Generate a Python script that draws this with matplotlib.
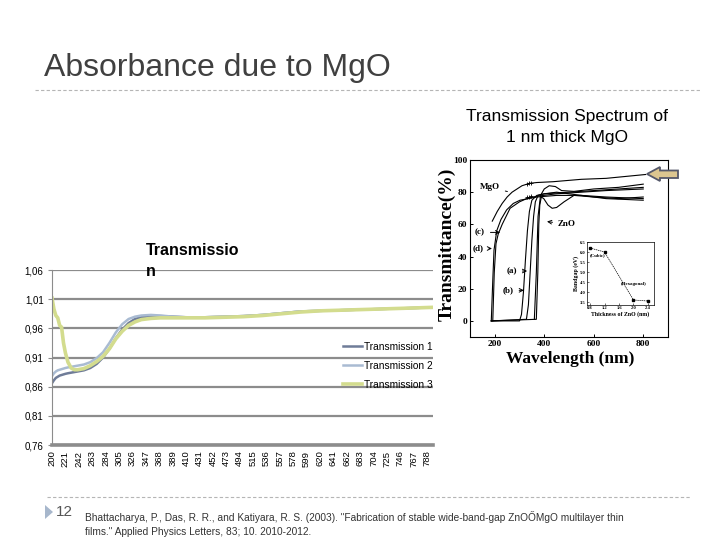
import matplotlib
matplotlib.use('Agg')
import matplotlib.pyplot as plt
from matplotlib.patches import Polygon
from matplotlib.lines import Line2D

plt.rcParams['font.family'] = ['Liberation Sans', 'DejaVu Sans']

# ---------------- main chart data ----------------
wavelength = [200, 203, 206, 209, 212, 215, 218, 221, 225, 230,
              235, 240, 250, 260, 270, 280, 290, 300, 310, 320,
              330, 340, 355, 370, 390, 410, 440, 470, 500, 530,
              560, 590, 620, 650, 680, 710, 740, 770, 797]
trans1 = [0.866, 0.871, 0.875, 0.877, 0.879, 0.880, 0.881, 0.882, 0.883, 0.884,
          0.885, 0.886, 0.888, 0.892, 0.899, 0.910, 0.925, 0.943, 0.958, 0.969,
          0.976, 0.979, 0.981, 0.981, 0.980, 0.979, 0.979, 0.980, 0.981, 0.983,
          0.986, 0.989, 0.990, 0.991, 0.992, 0.993, 0.994, 0.995, 0.996]
trans2 = [0.878, 0.883, 0.886, 0.888, 0.889, 0.890, 0.891, 0.892, 0.893, 0.894,
          0.895, 0.896, 0.898, 0.902, 0.909, 0.919, 0.935, 0.953, 0.967, 0.976,
          0.980, 0.982, 0.983, 0.982, 0.980, 0.979, 0.979, 0.980, 0.981, 0.983,
          0.986, 0.989, 0.990, 0.991, 0.992, 0.993, 0.994, 0.995, 0.996]
trans3 = [1.012, 0.993, 0.982, 0.978, 0.965, 0.962, 0.935, 0.918, 0.902, 0.892,
          0.889, 0.889, 0.891, 0.896, 0.903, 0.912, 0.925, 0.942, 0.955, 0.965,
          0.971, 0.975, 0.977, 0.978, 0.978, 0.978, 0.978, 0.979, 0.980, 0.982,
          0.985, 0.988, 0.990, 0.991, 0.992, 0.993, 0.994, 0.995, 0.996]
series_names = ['Transmission 1', 'Transmission 2', 'Transmission 3']
series_colors = ['#6f7c98', '#a9bbd2', '#d3dc8e']
x_tick_labels = list(range(200, 789, 21))
y_ticks = [0.76, 0.81, 0.86, 0.91, 0.96, 1.01, 1.06]

# ---------------- reproduced literature figure data ----------------
mgo_x = [190, 210, 230, 250, 270, 290, 310, 340, 370, 435, 550, 650, 810]
mgo_y = [62, 68, 73, 77, 80, 82, 84, 85.5, 86, 86.5, 88, 88.6, 91]
c_x = [192, 198, 205, 214, 230, 262, 300, 329, 370, 450, 550, 650, 800]
c_y = [0, 30, 48, 54, 60, 70, 74, 76, 77.5, 79, 80, 81, 82]
d_x = [186, 192, 197, 208, 225, 248, 275, 302, 370, 450, 550, 650, 800]
d_y = [0, 25, 44, 56, 63, 69, 73, 75, 77, 78, 78, 77, 76]
a_x = [186, 300, 308, 316, 324, 332, 340, 350, 370, 400, 500, 600, 700, 800]
a_y = [0, 0, 4, 18, 38, 56, 68, 75, 78, 79, 80, 81, 82, 83]
b_x = [186, 328, 336, 343, 350, 357, 364, 375, 400, 450, 550, 650, 800]
b_y = [0, 1, 10, 30, 50, 65, 74, 78, 79, 80, 78, 76, 75]
zno_x = [186, 368, 374, 378, 382, 388, 398, 415, 432, 450, 480, 520, 600, 700, 800]
zno_y = [0, 1, 30, 60, 72, 77, 76, 72, 70, 70.5, 74, 78, 77, 76, 77]
e_x = [360, 368, 375, 385, 400, 420, 445, 470, 520, 600, 700, 800]
e_y = [1, 30, 65, 78, 82, 84, 83.5, 81, 80.5, 82, 83, 85]
mark_x = [330, 338, 346]
mark_mgo_y = [85, 85.4, 85.7]
mark_low_y = [77, 77.3, 77.6]
thickness = [0.8, 1.2, 2.0, 2.4]
bandgap = [6.2, 6.0, 3.6, 3.55]

W, H = 720, 540
fig = plt.figure(figsize=(7.2, 5.4), dpi=100)
fig.patch.set_facecolor('white')


def fx(px):
    return px / W


def fy(py):
    return 1 - py / H


# ---------------- slide title ----------------
fig.text(fx(44), fy(68), 'Absorbance due to MgO', fontsize=23, color='#404040',
         ha='left', va='center')
fig.add_artist(Line2D([fx(35), fx(700)], [fy(90), fy(90)], color='#b5b5b5',
                      lw=0.8, ls=(0, (3, 2))))

fig.text(fx(567), fy(117), 'Transmission Spectrum of', fontsize=12.5,
         ha='center', va='center', color='black')
fig.text(fx(567), fy(137), '1 nm thick MgO', fontsize=12.5,
         ha='center', va='center', color='black')

# ---------------- main chart ----------------
ax = fig.add_axes([fx(52), fy(445), fx(433) - fx(52), fy(270) - fy(445)])
for yv, c, name, lw in zip([trans1, trans2, trans3], series_colors, series_names,
                           [1.8, 1.8, 2.6]):
    ax.plot(wavelength, yv, color=c, lw=lw, label=name, solid_joinstyle='round')
ax.set_xlim(200, 797)
ax.set_ylim(0.76, 1.06)
ax.set_yticks(y_ticks)
ax.set_yticklabels([f'{v:.2f}'.replace('.', ',') for v in y_ticks], fontsize=7)
ax.set_xticks(x_tick_labels)
ax.set_xticklabels([str(v) for v in x_tick_labels], rotation=90, fontsize=6.8)
ax.tick_params(axis='x', length=0, pad=4)
ax.tick_params(axis='y', length=3, color='#8c8c8c', width=0.8, pad=3)
ax.yaxis.grid(True, color='#8c8c8c', lw=1.6)
ax.set_axisbelow(True)
for s in ['top', 'right']:
    ax.spines[s].set_visible(False)
ax.spines['left'].set_color('#8c8c8c')
ax.spines['left'].set_linewidth(0.8)
ax.spines['bottom'].set_color('#8c8c8c')
ax.spines['bottom'].set_linewidth(2.6)

leg = ax.legend(loc='upper left', bbox_to_anchor=(fx(343), fy(342)),
                bbox_transform=fig.transFigure, frameon=False, fontsize=7.3,
                handlelength=1.9, handletextpad=0.2, labelspacing=0.88,
                borderpad=0, borderaxespad=0)

fig.text(fx(146), fy(250), 'Transmissio', fontsize=11.5, fontweight='bold',
         ha='left', va='center')
fig.text(fx(146), fy(271), 'n', fontsize=11.5, fontweight='bold',
         ha='left', va='center')

# ---------------- reproduced literature figure ----------------
serif = ['Liberation Serif', 'DejaVu Serif']
ax2 = fig.add_axes([fx(470), fy(337), fx(668) - fx(470), fy(160) - fy(337)])
ax2.set_facecolor('white')
for xs, ys in [(mgo_x, mgo_y), (c_x, c_y), (d_x, d_y), (a_x, a_y),
               (b_x, b_y), (zno_x, zno_y), (e_x, e_y)]:
    ax2.plot(xs, ys, color='black', lw=0.8)
ax2.plot(mark_x, mark_mgo_y, ls='none', marker='+', ms=3, mew=0.6, color='black')
ax2.plot(mark_x, mark_low_y, ls='none', marker='+', ms=3, mew=0.6, color='black')
ax2.set_xlim(100, 900)
ax2.set_ylim(-10, 100)
ax2.set_xticks([200, 400, 600, 800])
ax2.set_yticks([0, 20, 40, 60, 80, 100])
ax2.tick_params(direction='in', length=2.5, width=0.7, pad=2)
for lab in ax2.get_xticklabels() + ax2.get_yticklabels():
    lab.set_family(serif)
    lab.set_fontweight('bold')
    lab.set_fontsize(6.8)
for s in ax2.spines.values():
    s.set_linewidth(0.8)
fig.text(fx(447), fy(244), 'Transmittance(%)', rotation=90, fontsize=14,
         family=serif, fontweight='bold', ha='center', va='center')
fig.text(fx(570), fy(359), 'Wavelength (nm)', fontsize=12.5,
         family=serif, fontweight='bold', ha='center', va='center')

ann_kw = dict(fontsize=6.5, family=serif, fontweight='bold', va='center')
ax2.annotate('MgO', xy=(262, 80), xytext=(180, 83), ha='center',
             arrowprops=dict(arrowstyle='-', lw=0.7, color='black'), **ann_kw)
ax2.annotate('(c)', xy=(233, 55), xytext=(140, 55), ha='center',
             arrowprops=dict(arrowstyle='->', lw=0.7, color='black'), **ann_kw)
ax2.annotate('(d)', xy=(200, 45), xytext=(132, 45), ha='center',
             arrowprops=dict(arrowstyle='->', lw=0.7, color='black'), **ann_kw)
ax2.annotate('(a)', xy=(342, 31), xytext=(268, 31), ha='center',
             arrowprops=dict(arrowstyle='->', lw=0.7, color='black'), **ann_kw)
ax2.annotate('(b)', xy=(329, 19), xytext=(254, 19), ha='center',
             arrowprops=dict(arrowstyle='->', lw=0.7, color='black'), **ann_kw)
ax2.annotate('ZnO', xy=(400, 62), xytext=(492, 60), ha='center',
             arrowprops=dict(arrowstyle='->', lw=0.7, color='black'), **ann_kw)

# bandgap inset
ax3 = fig.add_axes([fx(587), fy(305), fx(654) - fx(587), fy(242) - fy(305)])
ax3.plot(thickness, bandgap, color='black', lw=0.5, ls=(0, (2, 1)),
         marker='s', ms=1.5)
ax3.set_xlim(0.717, 2.566)
ax3.set_ylim(3.35, 6.5)
ax3.set_xticks([0.8, 1.2, 1.6, 2.0, 2.4])
ax3.set_yticks([3.5, 4.0, 4.5, 5.0, 5.5, 6.0, 6.5])
ax3.tick_params(direction='in', length=1.2, width=0.4, pad=1)
for lab in ax3.get_xticklabels() + ax3.get_yticklabels():
    lab.set_family(serif)
    lab.set_fontweight('bold')
    lab.set_fontsize(3.3)
for s in ax3.spines.values():
    s.set_linewidth(0.5)
ax3.set_xlabel('Thickness of ZnO (nm)', fontsize=4.2, family=serif,
               fontweight='bold', labelpad=0.5)
ax3.set_ylabel('Bandgap (eV)', fontsize=4.2, family=serif,
               fontweight='bold', labelpad=0.5)
ax3.text(0.78, 5.8, '(Cubic)', fontsize=3.5, family=serif, fontweight='bold')
ax3.text(1.65, 4.35, '(Hexagonal)', fontsize=3.5, family=serif, fontweight='bold')

# highlight arrow
arrow_px = [(647, 174), (660, 167), (660, 170.5), (678, 170.5),
            (678, 178), (660, 178), (660, 181)]
fig.add_artist(Polygon([(fx(x), fy(y)) for x, y in arrow_px], closed=True,
                       transform=fig.transFigure, facecolor='#dcc690',
                       edgecolor='#55586a', lw=1.3))

# ---------------- footer ----------------
fig.add_artist(Line2D([fx(47), fx(690)], [fy(497), fy(497)], color='#b5b5b5',
                      lw=0.8, ls=(0, (3, 2))))
fig.add_artist(Polygon([(fx(45), fy(505)), (fx(45), fy(519)), (fx(53), fy(512))],
                       closed=True, transform=fig.transFigure,
                       facecolor='#a7b7cc', edgecolor='none'))
fig.text(fx(56), fy(512), '12', fontsize=11, color='#555555', ha='left', va='center')
fig.text(fx(85), fy(517), 'Bhattacharya, P., Das, R. R., and Katiyara, R. S. (2003). '
         '"Fabrication of stable wide-band-gap ZnOŐMgO multilayer thin',
         fontsize=7.3, color='#333333', ha='left', va='center')
fig.text(fx(85), fy(532), 'films." Applied Physics Letters, 83; 10. 2010-2012.',
         fontsize=7.3, color='#333333', ha='left', va='center')

fig.savefig('out.png', dpi=100)
